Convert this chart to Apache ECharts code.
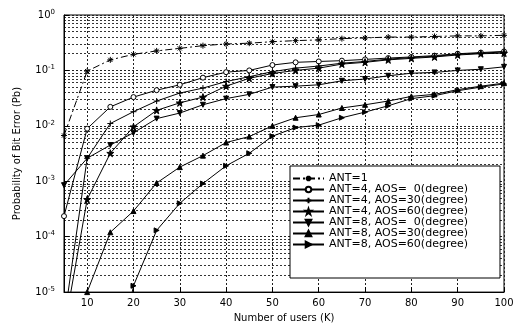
<!DOCTYPE html>
<html>
<head>
<meta charset="utf-8">
<script src="https://cdn.jsdelivr.net/npm/echarts@6/dist/echarts.min.js"></script>
<style>
  html, body { margin: 0; padding: 0; background: #fff; }
  #chart { width: 519px; height: 328px; }
</style>
</head>
<body>
<div id="chart"></div>
<script>
// number of users K
let users = [5, 10, 15, 20, 25, 30, 35, 40, 45, 50, 55, 60, 65, 70, 75, 80, 85, 90, 95, 100];
let xTicks = [10, 20, 30, 40, 50, 60, 70, 80, 90, 100];

// probability of bit error
let ant1 = [0.0067, 0.097, 0.155, 0.195, 0.225, 0.25, 0.28, 0.3, 0.31, 0.33, 0.345, 0.355, 0.375, 0.385, 0.4, 0.4, 0.41, 0.42, 0.42, 0.43];
let ant4aos0 = [2.35e-4, 8.9e-3, 0.022, 0.033, 0.044, 0.055, 0.074, 0.093, 0.1, 0.125, 0.14, 0.145, 0.15, 0.158, 0.167, 0.175, 0.185, 0.2, 0.21, 0.22];
let ant4aos30 = [3e-6, 2.6e-3, 0.011, 0.018, 0.028, 0.039, 0.048, 0.063, 0.077, 0.095, 0.11, 0.12, 0.135, 0.145, 0.16, 0.17, 0.18, 0.195, 0.205, 0.215];
let ant4aos60 = [2e-6, 4.7e-4, 3.2e-3, 9.6e-3, 0.019, 0.026, 0.033, 0.052, 0.072, 0.088, 0.1, 0.11, 0.13, 0.14, 0.155, 0.165, 0.175, 0.19, 0.2, 0.205];
let ant8aos0 = [8.5e-4, 2.6e-3, 4.5e-3, 7.5e-3, 0.0135, 0.017, 0.024, 0.031, 0.037, 0.05, 0.052, 0.055, 0.065, 0.07, 0.08, 0.089, 0.092, 0.1, 0.105, 0.116];
let ant8aos30 = [1e-7, 1e-5, 1.2e-4, 2.9e-4, 9.3e-4, 1.8e-3, 2.9e-3, 5e-3, 6.4e-3, 0.01, 0.014, 0.016, 0.021, 0.024, 0.028, 0.034, 0.037, 0.045, 0.052, 0.059];
let ant8aos60 = [1e-8, 1e-7, 1e-7, 1.3e-5, 1.3e-4, 4e-4, 9.1e-4, 1.9e-3, 3.2e-3, 6.5e-3, 9.3e-3, 0.0103, 0.014, 0.0177, 0.023, 0.031, 0.035, 0.043, 0.05, 0.057];

let names = ['ANT=1', 'ANT=4, AOS=  0(degree)', 'ANT=4, AOS=30(degree)', 'ANT=4, AOS=60(degree)',
             'ANT=8, AOS=  0(degree)', 'ANT=8, AOS=30(degree)', 'ANT=8, AOS=60(degree)'];

let asterisk = 'path://M5,0L5,10M0,5L10,5M1.5,1.5L8.5,8.5M8.5,1.5L1.5,8.5';
let plus = 'path://M5,0L5,10M0,5L10,5';
let star = 'path://M5,0L6.2,3.6L10,3.6L6.9,5.9L8.1,9.5L5,7.3L1.9,9.5L3.1,5.9L0,3.6L3.8,3.6Z';

function pairs(vals) {
  return users.map(function (u, i) { return [u, vals[i]]; });
}

function mkSeries(name, vals, symbol, size, rotate, filled, dash) {
  return {
    name: name,
    type: 'line',
    data: pairs(vals),
    symbol: symbol,
    symbolSize: size,
    symbolRotate: rotate,
    showAllSymbol: true,
    clip: true,
    lineStyle: { color: '#000', width: 1, type: dash || 'solid' },
    itemStyle: { color: filled ? '#000' : '#fff', borderColor: '#000', borderWidth: 1 },
    emphasis: { disabled: true },
    z: 3
  };
}

let series = [
  mkSeries(names[0], ant1, asterisk, 6, 0, false, [7, 3, 2, 3]),
  mkSeries(names[1], ant4aos0, 'circle', 5, 0, false),
  mkSeries(names[2], ant4aos30, plus, 6, 0, false),
  mkSeries(names[3], ant4aos60, star, 7, 0, true),
  mkSeries(names[4], ant8aos0, 'triangle', 5, 180, true),
  mkSeries(names[5], ant8aos30, 'triangle', 5, 0, true),
  mkSeries(names[6], ant8aos60, 'triangle', 5, -90, true)
];

let chart = echarts.init(document.getElementById('chart'));
chart.setOption({
  animation: false,
  backgroundColor: '#fff',
  textStyle: { fontFamily: 'DejaVu Sans', color: '#000' },
  grid: { left: 64, right: 15, top: 15, bottom: 30, show: true, borderColor: '#000', borderWidth: 1 },
  legend: {
    orient: 'vertical',
    left: 290,
    top: 166,
    itemWidth: 31,
    itemHeight: 7,
    itemGap: 0,
    padding: [7, 32, 28, 2],
    backgroundColor: '#fff',
    borderColor: '#000',
    borderWidth: 1,
    textStyle: { fontSize: 11, lineHeight: 11, color: '#000', fontFamily: 'DejaVu Sans' },
    data: names
  },
  xAxis: {
    type: 'value',
    min: 5,
    max: 100,
    name: 'Number of users (K)',
    nameLocation: 'middle',
    nameGap: 19,
    nameTextStyle: { fontSize: 10, color: '#000' },
    axisLine: { lineStyle: { color: '#000' } },
    axisTick: { inside: true, customValues: xTicks, lineStyle: { color: '#000' } },
    axisLabel: { customValues: xTicks, fontSize: 10, color: '#000', margin: 6 },
    splitLine: { show: true, lineStyle: { color: '#222', type: [2, 2] } }
  },
  yAxis: {
    type: 'log',
    logBase: 10,
    min: 1e-5,
    max: 1,
    name: 'Probability of Bit Error (Pb)',
    nameLocation: 'middle',
    nameGap: 42,
    nameTextStyle: { fontSize: 10, color: '#000' },
    axisLine: { lineStyle: { color: '#000' } },
    axisTick: { inside: true, lineStyle: { color: '#000' } },
    minorTick: { show: false, splitNumber: 9 },
    minorSplitLine: { show: true, lineStyle: { color: '#333', type: [2, 2] } },
    splitLine: { show: true, lineStyle: { color: '#222', type: [2, 2] } },
    axisLabel: {
      color: '#000',
      margin: 9,
      formatter: function (v) {
        let e = Math.round(Math.log10(v));
        return '{b|10}{s|' + e + '}';
      },
      rich: {
        b: { fontSize: 10, color: '#000' },
        s: { fontSize: 7, color: '#000', verticalAlign: 'top', padding: [0, 0, 6, 0] }
      }
    }
  },
  series: series
});
</script>
</body>
</html>
